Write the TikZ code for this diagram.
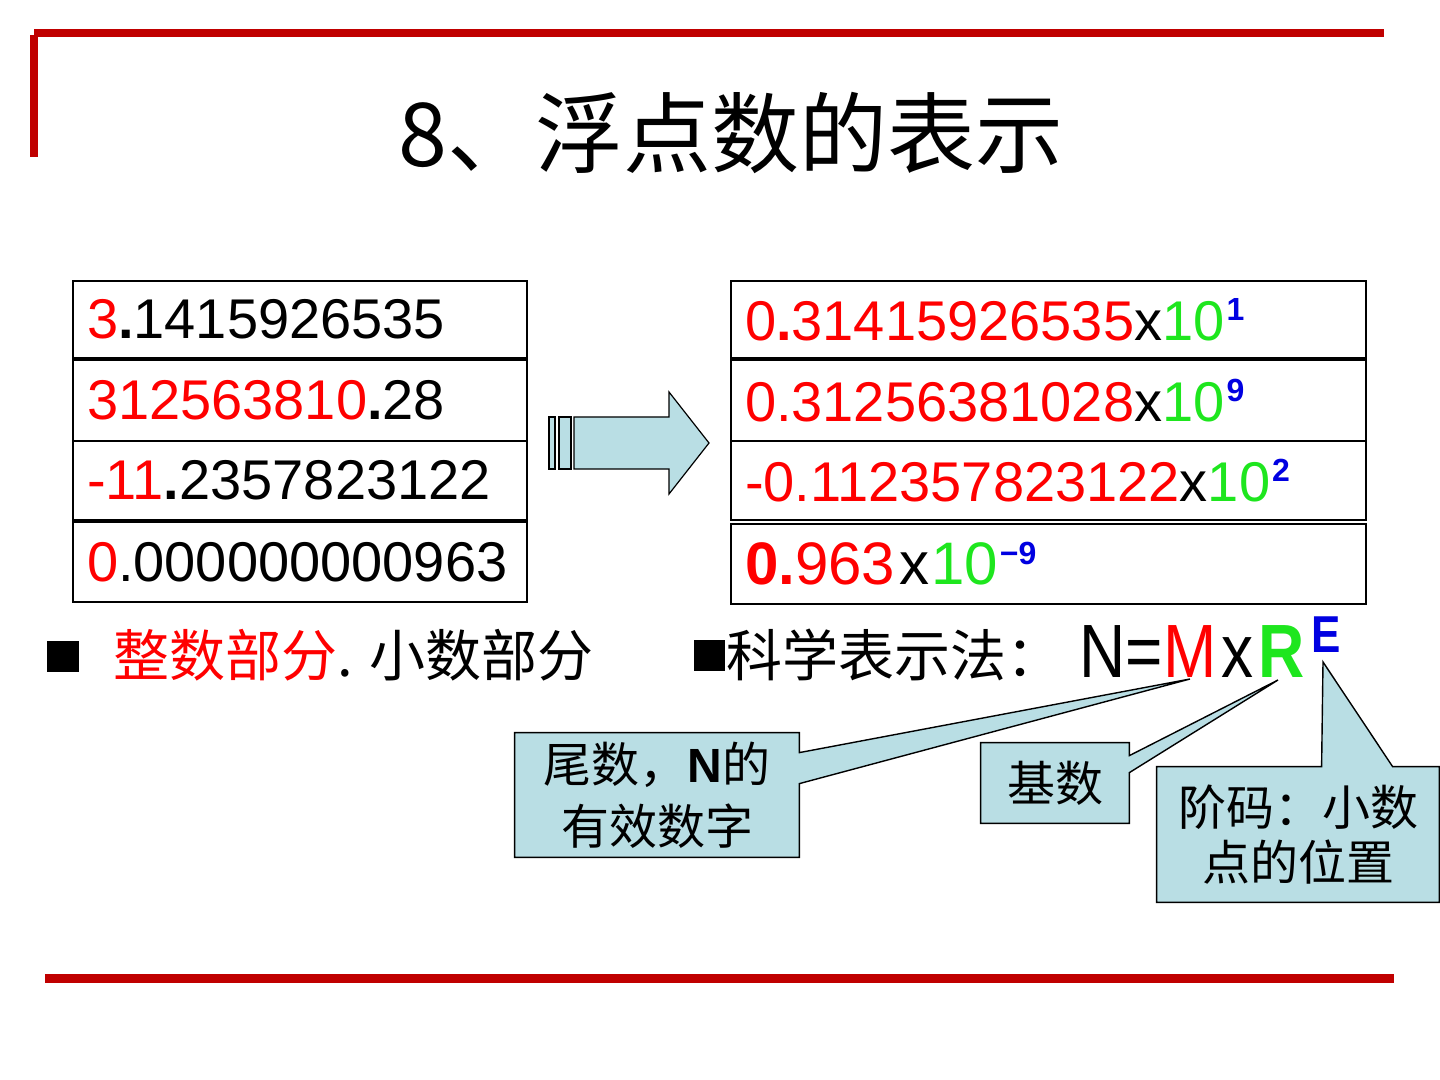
\documentclass[tikz,border=0pt]{standalone}
\usepackage{fontspec}
\setmainfont{Liberation Sans}
\newfontfamily\cjk{Noto Sans CJK SC}
\usetikzlibrary{backgrounds}

\definecolor{slidered}{RGB}{192,0,0}
\definecolor{callblue}{RGB}{185,222,228}
\definecolor{numred}{RGB}{255,0,0}
\definecolor{numgreen}{RGB}{30,230,30}
\definecolor{expblue}{RGB}{0,0,225}

\newcommand{\redtxt}[1]{\textcolor{numred}{#1}}
\newcommand{\greentxt}[1]{\textcolor{numgreen}{#1}}
\newcommand{\bluesup}[1]{\kern1pt\raisebox{10pt}{\fontsize{16pt}{16pt}\selectfont\bfseries\textcolor{expblue}{#1}}}

\begin{document}
\begin{tikzpicture}[x=0.5pt, y=-0.5pt,
	rowbox/.style={
		draw, line width=0.7pt, inner xsep=7pt, inner ysep=0pt,
		align=left, font=\fontsize{28pt}{34pt}\selectfont
	},
	leftrow/.style={rowbox, text width=213pt},
	rightrow/.style={rowbox, text width=303.5pt},
	callnode/.style={inner sep=0pt, align=center, font=\cjk\fontsize{24pt}{31pt}\selectfont},
	callshape/.style={draw, line width=0.7pt, fill=callblue, line join=miter},
	arrowshape/.style={draw, line width=0.6pt, fill=callblue},
	slideline/.style={draw=slidered, line width=4pt},
	]
	\begin{scope}[on background layer]
		\fill[white] (0,0) rectangle (1440,1080);
	\end{scope}
	\useasboundingbox (0,0) rectangle (1440,1080);
	
	% slide frame
	\draw[slideline] (34,33) -- (1384,33);
	\draw[slideline] (33.5,35) -- (33.5,157);
	\draw[slidered, line width=4.5pt] (45,978) -- (1394,978);
	
	\node[font=\cjk\fontsize{44pt}{50pt}\selectfont] (title) at (731,133) {8、浮点数的表示};
	
	% fixed point numbers
	\node[leftrow, minimum height=38.5pt] (l1) at (300,319.5) {\redtxt{3}\textbf{.}1415926535};
	\node[leftrow, minimum height=40.5pt] (l2) at (300,400.5) {\redtxt{312563810}\textbf{.}28};
	\node[leftrow, minimum height=39.5pt] (l3) at (300,480.5) {\redtxt{-11}\textbf{.}2357823122};
	\node[leftrow, minimum height=40pt]   (l4) at (300,562)   {\redtxt{0}.000000000963};
	
	% scientific form
	\node[rightrow, minimum height=38.5pt] (r1) at (1048.5,319.5) {\redtxt{0\textbf{.}31415926535}x\greentxt{10}\bluesup{1}};
	\node[rightrow, minimum height=40.5pt] (r2) at (1048.5,400.5) {\redtxt{0.31256381028}x\greentxt{10}\bluesup{9}};
	\node[rightrow, minimum height=39.5pt] (r3) at (1048.5,480.5) {\redtxt{-0.112357823122}x\greentxt{10}\bluesup{2}};
	\node[rightrow, minimum height=40pt, font=\fontsize{30pt}{34pt}\selectfont] (r4) at (1048.5,564)
		{\redtxt{\textbf{0.}963}\kern2pt x\kern1pt\greentxt{10}\bluesup{−9}};
	
	% block arrow
	\draw[arrowshape] (549,417) rectangle (555,469);
	\draw[arrowshape] (559,417) rectangle (571,469);
	\draw[arrowshape] (574,417) -- (669,417) -- (669,392) -- (709,443)
		-- (669,494) -- (669,469) -- (574,469) -- cycle;
	
	% bullet lines
	\fill (47,641) rectangle (79,672);
	\fill (694,640) rectangle (725,671);
	\node[anchor=base west, inner sep=0pt, font=\cjk\fontsize{28pt}{32pt}\selectfont] (parts) at (113,676)
		{\textcolor{numred}{整数部分}. 小数部分};
	\node[anchor=base west, inner sep=0pt, font=\cjk\fontsize{28pt}{32pt}\selectfont] (sci) at (726,676)
		{科学表示法：};
	\node[anchor=base west, inner sep=0pt, font=\fontsize{32pt}{36pt}\selectfont] (formula) at (1079,677)
		{\scalebox{1}[1.18]{N=\textcolor{numred}{M}\kern2.5pt x\kern2.5pt\textcolor{numgreen}{\textbf{R}}\kern3.5pt\raisebox{10.5pt}{\fontsize{22pt}{22pt}\selectfont\bfseries\textcolor{expblue}{E}}}};
	
	% callouts
	\node[callnode, minimum width=142pt, minimum height=62pt] (mant) at (657,795)
		{尾数，{\rmfamily\bfseries N}的\\有效数字};
	\node[callnode, minimum width=74pt, minimum height=40pt] (radix) at (1055,783) {基数};
	\node[callnode, minimum width=141pt, minimum height=67.5pt,
		font=\cjk\fontsize{24pt}{27.5pt}\selectfont] (expo) at (1298,834.5)
		{阶码：小数\\点的位置};
	
	\coordinate (mtip) at (1190,679);
	\coordinate (rtip) at (1278,680);
	\coordinate (etip) at (1323,662);
	\path (mant.north east) ++(0,20) coordinate (ma1) ++(0,31) coordinate (ma2);
	\path (radix.north east) ++(0,13) coordinate (ra1) ++(0,17) coordinate (ra2);
	\path (expo.north west) ++(165,0) coordinate (ea1) ++(71,0) coordinate (ea2);
	
	\begin{scope}[on background layer]
		\draw[callshape] (mant.north west) -- (mant.north east) -- (ma1) -- (mtip)
			-- (ma2) -- (mant.south east) -- (mant.south west) -- cycle;
		\draw[callshape] (radix.north west) -- (radix.north east) -- (ra1) -- (rtip)
			-- (ra2) -- (radix.south east) -- (radix.south west) -- cycle;
		\draw[callshape] (expo.north west) -- (ea1) -- (etip) -- (ea2)
			-- (expo.north east) -- (expo.south east) -- (expo.south west) -- cycle;
	\end{scope}
	
\end{tikzpicture}
\end{document}
